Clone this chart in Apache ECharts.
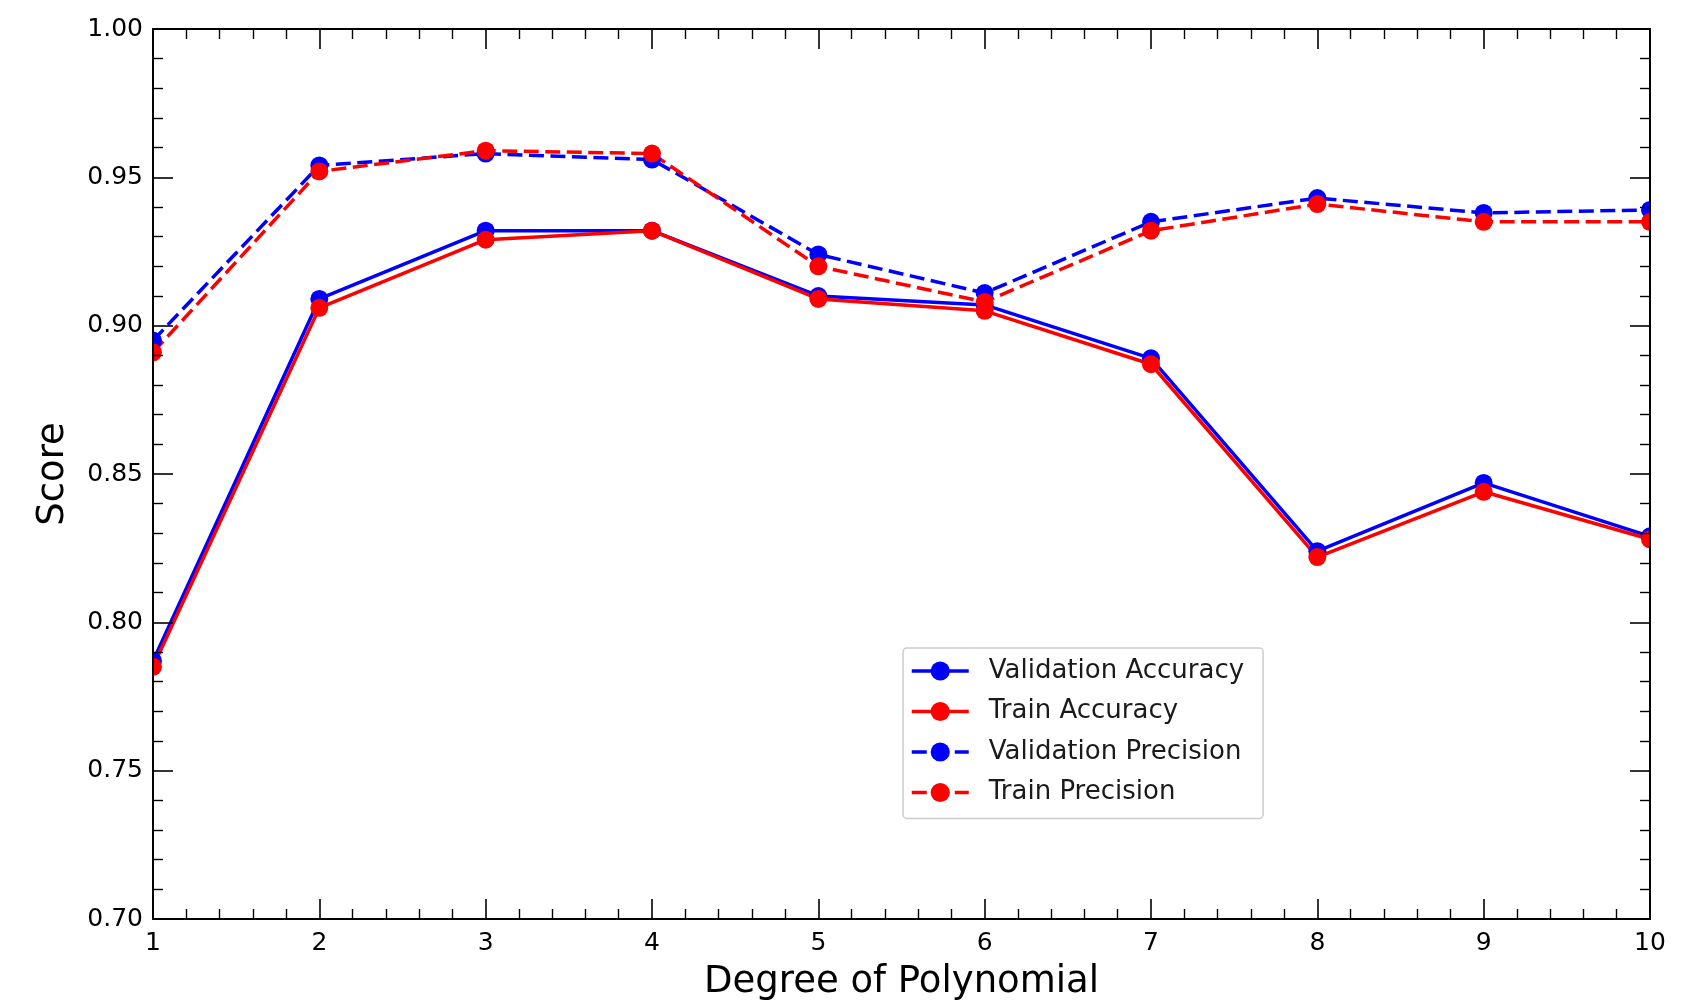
<!DOCTYPE html>
<html>
<head>
<meta charset="utf-8">
<title>Score vs Degree of Polynomial</title>
<script src="https://cdn.jsdelivr.net/npm/echarts@6/dist/echarts.min.js"></script>
<style>
  html, body { margin: 0; padding: 0; background: #ffffff; }
  #chart { width: 1691px; height: 1006px; }
</style>
</head>
<body>
<div id="chart"></div>
<script>
// Polynomial degree on the x axis
const degrees = [1, 2, 3, 4, 5, 6, 7, 8, 9, 10];

// Scores per degree
const validationAccuracy = [0.787, 0.909, 0.932, 0.932, 0.910, 0.907, 0.889, 0.824, 0.847, 0.829];
const trainAccuracy      = [0.785, 0.906, 0.929, 0.932, 0.909, 0.905, 0.887, 0.822, 0.844, 0.828];
const validationPrecision = [0.895, 0.954, 0.958, 0.956, 0.924, 0.911, 0.935, 0.943, 0.938, 0.939];
const trainPrecision      = [0.891, 0.952, 0.959, 0.958, 0.920, 0.908, 0.932, 0.941, 0.935, 0.935];

// Tick labels
const xTickLabels = ['1', '2', '3', '4', '5', '6', '7', '8', '9', '10'];
const yTickLabels = ['0.70', '0.75', '0.80', '0.85', '0.90', '0.95', '1.00'];

const FONT = 'DejaVu Sans';
const GRID = { left: 153, right: 41, top: 29, bottom: 86 };

const chart = echarts.init(document.getElementById('chart'), null, { renderer: 'canvas' });

function pairs(values) {
  return degrees.map((d, i) => [d, values[i]]);
}

function tickAxisCommon() {
  return {
    z: 10,
    axisLine: { show: true, onZero: false, lineStyle: { color: '#000', width: 2 } },
    axisTick: { show: true, inside: true, length: 20, lineStyle: { color: '#000', width: 1.6 } },
    minorTick: { show: true, splitNumber: 5, length: 10, lineStyle: { color: '#000', width: 1.4 } },
    splitLine: { show: false },
    minorSplitLine: { show: false }
  };
}

const xMin = 1, xMax = 10, xStep = 1;
const yMin = 0.70, yMax = 1.00, yStep = 0.05;

function xLabel(v) {
  const i = Math.round((v - xMin) / xStep);
  return xTickLabels[i] !== undefined ? xTickLabels[i] : '';
}
function yLabel(v) {
  const i = Math.round((v - yMin) / yStep);
  return yTickLabels[i] !== undefined ? yTickLabels[i] : '';
}

function lineSeries(name, values, color, dashed) {
  return {
    name: name,
    type: 'line',
    data: pairs(values),
    symbol: 'circle',
    symbolSize: 18,
    showSymbol: true,
    showAllSymbol: true,
    clip: true,
    z: 2,
    itemStyle: { color: color },
    lineStyle: { color: color, width: 3.5, type: dashed ? [15, 6.5] : 'solid' },
    emphasis: { disabled: true }
  };
}

const option = {
  animation: false,
  backgroundColor: '#ffffff',
  textStyle: { fontFamily: FONT },
  grid: { left: GRID.left, right: GRID.right, top: GRID.top, bottom: GRID.bottom, containLabel: false },
  xAxis: [
    Object.assign(tickAxisCommon(), {
      type: 'value',
      position: 'bottom',
      min: xMin, max: xMax, interval: xStep,
      name: 'Degree of Polynomial',
      nameLocation: 'middle',
      nameGap: 45,
      nameTextStyle: { fontFamily: FONT, fontSize: 37, color: '#000' },
      axisLabel: { show: true, margin: 12, fontFamily: FONT, fontSize: 25, color: '#000', formatter: xLabel }
    }),
    Object.assign(tickAxisCommon(), {
      type: 'value',
      position: 'top',
      min: xMin, max: xMax, interval: xStep,
      axisLabel: { show: false }
    })
  ],
  yAxis: [
    Object.assign(tickAxisCommon(), {
      type: 'value',
      position: 'left',
      min: yMin, max: yMax, interval: yStep,
      name: 'Score',
      nameLocation: 'middle',
      nameGap: 81,
      nameTextStyle: { fontFamily: FONT, fontSize: 37, color: '#000' },
      axisLabel: { show: true, margin: 10, fontFamily: FONT, fontSize: 25, color: '#000', formatter: yLabel }
    }),
    Object.assign(tickAxisCommon(), {
      type: 'value',
      position: 'right',
      min: yMin, max: yMax, interval: yStep,
      axisLabel: { show: false }
    })
  ],
  legend: {
    orient: 'vertical',
    left: 903,
    top: 648,
    padding: [10, 19, 13, 7],
    itemWidth: 57,
    itemHeight: 24,
    itemGap: 14.5,
    backgroundColor: '#ffffff',
    borderColor: '#cccccc',
    borderWidth: 1.5,
    borderRadius: 4,
    z: 12,
    selectedMode: false,
    lineStyle: { width: 3.5 },
    textStyle: {
      fontFamily: FONT, fontSize: 26, color: '#1a1a1a',
      width: 263, padding: [0, 0, 0, 15]
    },
    data: ['Validation Accuracy', 'Train Accuracy', 'Validation Precision', 'Train Precision']
  },
  // white margins hide the part of edge markers lying outside the plot frame
  graphic: [
    { type: 'rect', z: 5, silent: true, shape: { x: 0, y: 0, width: 152, height: 1006 }, style: { fill: '#ffffff' } },
    { type: 'rect', z: 5, silent: true, shape: { x: 1651, y: 0, width: 40, height: 1006 }, style: { fill: '#ffffff' } }
  ],
  series: [
    lineSeries('Validation Accuracy', validationAccuracy, '#0000ff', false),
    lineSeries('Train Accuracy', trainAccuracy, '#ff0000', false),
    lineSeries('Validation Precision', validationPrecision, '#0000ff', true),
    lineSeries('Train Precision', trainPrecision, '#ff0000', true)
  ]
};

chart.setOption(option);
</script>
</body>
</html>
